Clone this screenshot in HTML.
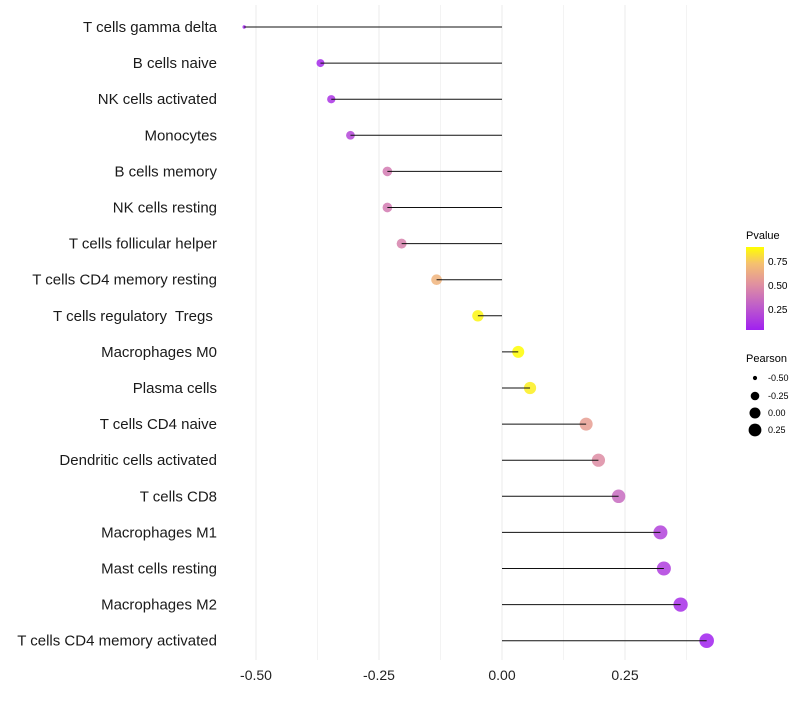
<!DOCTYPE html>
<html><head><meta charset="utf-8"><style>
body{margin:0;background:#fff;font-family:"Liberation Sans",sans-serif}
text{white-space:pre}
</style></head><body>
<svg id="c" width="800" height="700" xmlns="http://www.w3.org/2000/svg">
<defs><linearGradient id="pg" x1="0" y1="1" x2="0" y2="0">
<stop offset="0" stop-color="#a020f0"/><stop offset="0.3" stop-color="#c060c8"/><stop offset="0.55" stop-color="#e090a0"/><stop offset="0.8" stop-color="#f5c070"/><stop offset="1" stop-color="#ffff00"/></linearGradient></defs>
<g id="grid"></g><g id="dots"></g><g id="marks"></g><g id="labels"></g>
<g font-size="10">
<text x="746" y="239" font-size="11">Pvalue</text>
<rect x="746" y="247" width="18" height="83" fill="url(#pg)"/>
<text x="768" y="265">0.75</text><text x="768" y="289">0.50</text><text x="768" y="313">0.25</text>
</g>
<g font-size="9">
<text x="746" y="362" font-size="11">Pearson</text>
<circle cx="755" cy="378" r="2.1"/><text x="768" y="381">-0.50</text>
<circle cx="755" cy="396" r="4.3"/><text x="768" y="399">-0.25</text>
<circle cx="755" cy="413" r="5.5"/><text x="768" y="416">0.00</text>
<circle cx="755" cy="430" r="6.4"/><text x="768" y="433">0.25</text>
</g>
</svg>
<script>
const categories=["T cells gamma delta","B cells naive","NK cells activated","Monocytes","B cells memory","NK cells resting","T cells follicular helper","T cells CD4 memory resting","T cells regulatory  Tregs ","Macrophages M0","Plasma cells","T cells CD4 naive","Dendritic cells activated","T cells CD8","Macrophages M1","Mast cells resting","Macrophages M2","T cells CD4 memory activated"];
const pearson=[-0.524,-0.369,-0.347,-0.308,-0.233,-0.233,-0.204,-0.133,-0.049,0.033,0.057,0.171,0.196,0.237,0.322,0.329,0.363,0.416];
const pvalue=[0.05,0.08,0.12,0.2,0.42,0.42,0.45,0.68,0.88,0.9,0.86,0.58,0.5,0.35,0.18,0.16,0.1,0.05];
const xTicks=[-0.5,-0.25,0,0.25];
const xLabels=["-0.50","-0.25","0.00","0.25"];
const NS="http://www.w3.org/2000/svg";
const x=v=>502+v*492;
const y=i=>27+i*36.1;
const pMin=Math.min(...pearson),pMax=Math.max(...pearson);
const rad=v=>1.7+5.6*Math.sqrt((v-pMin)/(pMax-pMin));
const stops=[[0,[160,32,240]],[0.3,[192,96,200]],[0.55,[224,144,160]],[0.8,[245,192,112]],[1,[255,255,0]]];
function col(p){let t=Math.max(0,Math.min(1,(p-0.042)/0.864));for(let k=1;k<stops.length;k++){if(t<=stops[k][0]){const a=stops[k-1],b=stops[k],f=(t-a[0])/(b[0]-a[0]);return`rgb(${a[1].map((c,j)=>Math.round(c+(b[1][j]-c)*f)).join(",")})`;}}return"rgb(255,255,0)";}
function mk(t,at,parent){const e=document.createElementNS(NS,t);for(const k in at)e.setAttribute(k,at[k]);document.getElementById(parent).appendChild(e);return e;}
for(let v=-0.5;v<=0.376;v+=0.125){const g=mk("line",{x1:x(v),x2:x(v),y1:5,y2:660,stroke:"#ebebeb","stroke-width":v%0.25===0?1:0.6},"grid");

}
xTicks.forEach((v,i)=>{const t=mk("text",{x:x(v),y:680,"text-anchor":"middle","font-size":14,fill:"#222"},"labels");t.textContent=xLabels[i];

});
categories.forEach((c,i)=>{
const t=mk("text",{x:217,y:y(i)+5,"text-anchor":"end","font-size":15,fill:"#1a1a1a"},"labels");t.textContent=c;


const d=mk("circle",{cx:x(pearson[i]),cy:y(i),r:rad(pearson[i]),fill:col(pvalue[i]),"fill-opacity":0.85},"dots");


const l=mk("line",{x1:x(0),x2:x(pearson[i]),y1:y(i),y2:y(i),stroke:"#111","stroke-width":1},"marks");


});
</script>
</body></html>
